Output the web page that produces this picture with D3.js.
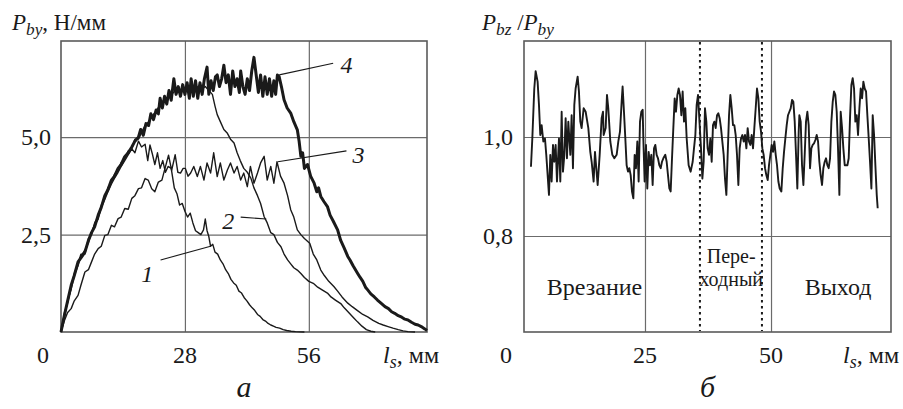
<!DOCTYPE html>
<html>
<head>
<meta charset="utf-8">
<script src="https://cdn.jsdelivr.net/npm/d3@7"></script>
<style>
  html, body { margin: 0; padding: 0; background: #fff; }
  svg { display: block; }
</style>
</head>
<body>
<svg id="chart" width="903" height="409" font-family="'Liberation Serif', 'Times New Roman', 'DejaVu Serif', serif"></svg>
<script>
// two panels: (а) P_by vs l_s for 4 runs, (б) P_bz/P_by ratio vs l_s

// ---- data ----
// panel а: [l_s mm, P_by N/mm]
var curve1 = [[0,0],[0.8,0.4],[1.5,0.8],[2.3,1.1],[3.0,1.45],[3.85,1.7],[4.5,1.95],[5.4,2.1],[6.2,2.3],[6.9,2.55],[7.6,2.75],[8.4,2.9],[9.1,3.2],[9.9,3.4],[10.6,3.6],[11.4,3.8],[12.1,3.95],[12.9,4.1],[13.6,4.25],[14.4,4.4],[15.2,4.55],[16.0,4.7],[16.7,4.6],[17.5,4.9],[18.2,4.75],[19.0,4.82],[19.6,4.4],[20.1,4.8],[20.6,4.59],[21.2,4.3],[21.8,4.6],[22.4,4.2],[23.0,4.4],[23.6,4.1],[24.2,4.25],[24.9,4.2],[25.6,3.7],[26.2,3.55],[26.8,3.26],[27.4,3.3],[28.0,3.1],[28.6,2.95],[29.2,3.05],[29.8,2.8],[30.4,2.6],[31.0,2.55],[31.6,2.5],[32.2,2.62],[32.6,2.9],[33.0,2.6],[33.4,2.45],[33.8,2.2],[34.3,2.25],[34.8,2.05],[35.4,2.0],[36.0,1.85],[36.6,1.75],[37.2,1.6],[37.8,1.5],[38.4,1.35],[39.0,1.26],[39.6,1.2],[40.2,1.05],[40.8,1.0],[41.4,0.88],[42.0,0.8],[42.6,0.7],[43.2,0.62],[43.8,0.55],[44.4,0.45],[45.0,0.4],[45.6,0.32],[46.2,0.28],[46.8,0.22],[47.4,0.18],[48.0,0.15],[48.6,0.12],[49.4,0.1],[50.2,0.06],[51.0,0.04],[52.0,0.02],[53.0,0.01],[55.0,0]];
var curve2 = [[0,0],[0.8,0.5],[1.5,0.75],[2.3,1.15],[3.0,1.5],[3.85,1.75],[4.5,2.0],[5.4,2.0],[6.2,2.4],[6.9,2.5],[7.6,2.8],[8.4,2.95],[9.1,3.25],[9.9,3.45],[10.6,3.7],[11.4,3.85],[12.1,4.05],[12.9,4.15],[13.6,4.35],[14.4,4.45],[15.2,4.65],[16.0,4.7],[16.7,4.95],[17.5,4.95],[18.3,5.15],[19.0,5.3],[19.8,5.4],[20.6,5.55],[21.4,5.65],[22.2,5.8],[23.0,5.9],[23.8,6.0],[24.6,6.05],[25.4,6.15],[26.2,6.2],[27.0,6.2],[27.8,6.25],[28.6,6.2],[29.4,6.3],[30.2,6.25],[31.0,6.3],[31.8,6.25],[32.6,6.3],[33.4,6.2],[34.2,6.1],[34.8,5.8],[35.3,5.58],[36.0,5.4],[36.8,5.2],[37.6,5.1],[38.3,4.95],[39.1,4.85],[39.8,4.6],[40.5,4.4],[41.3,4.2],[42.1,4.1],[42.9,3.95],[43.6,3.7],[44.4,3.5],[45.1,3.3],[45.9,2.96],[46.6,2.8],[47.4,2.55],[48.1,2.5],[48.9,2.3],[49.7,2.19],[50.4,2.0],[51.2,1.85],[51.9,1.75],[52.6,1.65],[53.4,1.59],[54.2,1.5],[55.0,1.4],[56.0,1.3],[57.0,1.25],[58.0,1.15],[59.0,1.08],[60.2,1.0],[61.0,0.9],[62.0,0.82],[63.3,0.72],[64.0,0.62],[65.0,0.5],[66.0,0.38],[67.0,0.26],[68.0,0.15],[69.0,0.06],[70.0,0.02],[71.0,0]];
var curve3 = [[0,0],[0.8,0.3],[1.5,0.5],[2.3,0.6],[3.0,0.8],[3.85,0.94],[4.5,1.2],[5.4,1.54],[6.2,1.6],[6.9,1.8],[7.6,2.0],[8.4,2.14],[9.1,2.2],[9.9,2.48],[10.6,2.5],[11.4,2.74],[12.1,2.7],[12.9,2.91],[13.6,2.95],[14.4,3.17],[15.2,3.15],[16.0,3.43],[16.7,3.5],[17.5,3.68],[18.2,3.7],[19.0,3.94],[19.7,3.9],[20.5,3.68],[21.2,3.6],[22.0,3.85],[22.8,3.9],[23.5,4.2],[24.3,4.54],[25.0,4.15],[25.8,4.55],[26.4,4.1],[27.0,4.08],[27.6,4.2],[28.1,4.2],[28.7,4.0],[29.3,4.08],[30.0,4.25],[30.8,3.99],[31.5,4.25],[32.3,3.9],[33.0,4.34],[33.8,4.08],[34.5,4.6],[35.3,3.99],[36.0,4.34],[36.8,3.9],[37.6,4.16],[38.3,4.34],[39.1,4.08],[39.8,4.25],[40.6,3.9],[41.3,4.08],[42.1,3.73],[42.8,4.25],[43.6,3.82],[44.4,4.08],[45.1,4.34],[45.9,4.51],[46.6,3.9],[47.4,4.25],[48.1,3.82],[48.8,4.37],[49.6,4.0],[50.4,3.82],[51.2,3.5],[51.9,3.14],[52.6,2.95],[53.4,2.62],[54.2,2.5],[55.0,2.4],[56.2,2.28],[57.0,2.0],[57.8,1.85],[58.7,1.59],[59.5,1.45],[60.5,1.3],[61.7,1.16],[62.5,1.05],[63.5,0.9],[64.8,0.74],[65.8,0.65],[67.0,0.55],[68.2,0.45],[69.3,0.39],[70.5,0.3],[71.8,0.22],[72.8,0.18],[73.9,0.14],[75.0,0.1],[76.2,0.06],[77.3,0.03],[78.4,0.01],[80.0,0]];
var curve4 = [[0,0],[0.8,0.45],[1.5,0.8],[2.3,1.2],[3.0,1.45],[3.85,1.8],[4.5,1.9],[5.4,2.05],[6.2,2.35],[6.9,2.55],[7.6,2.7],[8.4,3.0],[9.1,3.2],[9.9,3.5],[10.6,3.65],[11.4,3.9],[12.1,4.0],[12.9,4.2],[13.6,4.3],[14.4,4.5],[15.2,4.6],[16.0,4.75],[16.7,4.9],[17.5,5.0],[18.0,5.2],[18.6,5.05],[19.2,5.35],[19.8,5.3],[20.3,5.6],[20.9,5.45],[21.5,5.7],[22.0,5.6],[22.4,6.0],[22.9,5.75],[23.4,6.05],[23.9,5.85],[24.4,6.2],[24.9,5.95],[25.5,6.5],[26.0,6.1],[26.5,6.3],[27.0,6.05],[27.5,6.35],[28.0,6.1],[28.5,6.4],[29.0,6.0],[29.4,6.5],[29.9,6.05],[30.4,6.45],[30.9,6.0],[31.4,6.4],[31.9,6.1],[32.4,6.5],[33.0,6.8],[33.4,6.1],[33.9,6.45],[34.4,6.2],[34.9,6.55],[35.3,6.6],[35.8,6.3],[36.3,6.5],[36.8,6.85],[37.3,6.4],[37.8,6.6],[38.3,6.1],[38.8,6.7],[39.3,6.3],[39.8,6.5],[40.3,6.15],[40.6,6.7],[41.1,6.3],[41.6,6.1],[42.1,6.5],[42.6,6.2],[43.1,6.7],[43.6,7.05],[44.1,6.6],[44.6,6.15],[45.1,6.6],[45.6,6.05],[46.1,6.55],[46.6,6.1],[47.1,6.5],[47.6,6.05],[48.1,6.45],[48.5,6.1],[48.9,6.6],[49.3,6.55],[49.8,6.3],[50.4,5.96],[51.1,5.75],[51.9,5.62],[52.6,5.4],[53.4,5.19],[53.8,4.9],[54.2,4.51],[54.6,4.6],[55.0,4.2],[55.7,4.3],[56.4,4.0],[57.2,3.82],[57.8,3.6],[58.2,3.7],[58.7,3.48],[59.4,3.35],[60.2,3.22],[60.8,3.0],[61.5,2.85],[62.5,2.62],[63.2,2.35],[64.0,2.15],[64.8,1.94],[65.3,1.85],[66.0,1.7],[67.0,1.51],[67.6,1.4],[68.2,1.3],[68.8,1.15],[69.3,1.08],[70.0,0.98],[70.8,0.9],[71.5,0.82],[72.3,0.74],[73.2,0.65],[74.0,0.6],[74.7,0.52],[75.4,0.48],[76.2,0.42],[77.0,0.38],[77.7,0.33],[78.4,0.31],[79.2,0.25],[80.0,0.2],[80.7,0.18],[81.4,0.14],[82.2,0.08],[82.7,0.04]];

var ticksA_x = [28, 56];
var ticksA_y = [2.5, 5.0];
// label: text, text position [mm, N/mm], leader from [mm, N/mm] to point on curve [mm, N/mm]
var labelsA = [
  { t: "1", at: [19.5, 1.5], from: [22.5, 1.85], to: [33.8, 2.2] },
  { t: "2", at: [37.8, 2.85], from: [40.6, 2.95], to: [46.4, 2.9] },
  { t: "3", at: [67.2, 4.55], from: [64.5, 4.65], to: [49.0, 4.37] },
  { t: "4", at: [64.5, 6.85], from: [61.5, 6.9], to: [49.3, 6.6] }
];

// panel б: [l_s mm, P_bz/P_by]
var ratio = [[2.38,0.940],[2.65,0.997],[3.04,1.098],[3.31,1.133],[3.70,1.112],[3.97,1.065],[4.23,1.004],[4.50,1.024],[4.83,0.991],[5.16,0.997],[5.42,0.964],[5.69,0.923],[5.95,0.883],[6.22,0.964],[6.48,0.910],[6.75,0.984],[7.01,0.950],[7.28,0.984],[7.54,0.910],[7.94,0.997],[8.20,0.910],[8.47,1.051],[8.73,0.930],[9.00,0.964],[9.26,1.038],[9.52,0.957],[9.79,1.031],[10.19,0.964],[10.45,1.044],[10.71,0.937],[10.98,1.065],[11.24,1.098],[11.64,1.122],[11.90,1.092],[12.17,1.031],[12.43,1.018],[12.83,1.058],[13.23,1.051],[13.76,1.018],[14.15,0.970],[14.42,0.950],[14.81,0.910],[15.08,0.970],[15.34,0.937],[15.61,0.903],[16.01,0.964],[16.40,1.038],[16.67,1.051],[16.80,1.004],[17.20,1.018],[17.46,1.085],[17.72,1.058],[18.12,0.991],[18.52,0.964],[18.92,0.957],[19.38,0.964],[19.71,0.991],[20.04,1.011],[20.37,1.071],[20.56,1.102],[20.83,1.051],[21.10,0.997],[21.36,0.943],[21.63,0.930],[21.89,0.937],[22.16,0.923],[22.42,0.890],[22.69,0.876],[22.95,0.964],[23.21,0.937],[23.48,0.991],[23.74,0.910],[24.01,1.031],[24.27,1.051],[24.54,1.055],[24.67,0.997],[24.93,0.910],[25.20,0.984],[25.46,0.896],[25.73,0.970],[25.99,0.943],[26.26,0.964],[26.52,0.903],[26.79,0.977],[27.05,0.984],[27.31,0.964],[27.58,0.957],[27.84,0.943],[28.11,0.937],[28.37,0.950],[28.64,0.957],[29.03,0.964],[29.30,0.950],[29.56,0.923],[29.83,0.896],[30.09,0.890],[30.36,0.957],[30.62,1.018],[30.89,1.078],[31.15,1.051],[31.42,1.085],[31.68,1.098],[31.94,1.085],[32.21,1.044],[32.47,1.092],[32.74,1.031],[33.00,1.058],[33.27,0.997],[33.66,0.943],[34.06,0.930],[34.46,0.950],[34.72,0.977],[34.99,1.004],[35.25,1.065],[35.52,1.085],[35.85,1.024],[36.11,0.977],[36.38,0.916],[36.64,0.950],[36.90,1.058],[37.17,1.031],[37.43,0.977],[37.70,0.964],[37.96,0.997],[38.23,0.950],[38.49,1.024],[38.76,1.031],[39.02,1.018],[39.29,1.044],[39.55,1.048],[39.81,1.038],[40.08,1.018],[40.34,0.991],[40.61,0.964],[40.87,0.916],[41.14,0.883],[41.40,0.964],[41.67,1.044],[41.93,1.085],[42.20,1.058],[42.46,1.024],[42.72,1.024],[42.99,1.004],[43.25,0.964],[43.52,0.903],[43.78,0.977],[44.05,0.997],[44.31,1.004],[44.58,0.991],[44.84,1.004],[45.11,0.977],[45.37,1.018],[45.63,0.991],[45.90,0.984],[46.16,1.004],[46.43,0.977],[46.69,1.018],[46.96,1.058],[47.22,1.098],[47.49,1.078],[47.75,1.031],[48.02,1.011],[48.28,0.977],[48.54,0.964],[48.81,0.937],[49.07,0.923],[49.34,0.913],[49.60,0.943],[49.87,0.964],[50.13,0.984],[50.40,0.970],[50.66,0.991],[50.93,0.964],[51.19,0.943],[51.46,0.910],[51.72,0.896],[52.05,0.890],[52.32,0.937],[52.58,0.970],[52.84,0.997],[53.11,1.024],[53.37,1.044],[53.64,1.051],[53.90,1.058],[54.17,1.075],[54.43,1.071],[54.70,1.031],[54.96,0.964],[55.22,0.896],[55.49,1.011],[55.62,1.044],[55.89,1.031],[56.15,0.943],[56.42,0.903],[56.68,0.964],[56.94,1.031],[57.21,1.051],[57.47,1.024],[57.74,0.937],[58.00,0.977],[58.27,0.984],[58.53,0.987],[58.80,0.994],[59.06,1.004],[59.33,0.991],[59.59,0.950],[59.85,0.923],[60.12,0.903],[60.38,0.937],[60.65,0.950],[60.91,0.957],[61.18,0.943],[61.44,0.937],[61.71,0.957],[61.97,1.031],[62.24,1.071],[62.50,1.092],[62.76,1.085],[63.03,1.051],[63.29,0.977],[63.56,0.883],[63.82,1.051],[64.09,1.018],[64.35,0.977],[64.62,0.943],[64.88,0.943],[65.15,0.943],[65.41,0.957],[65.67,1.038],[65.94,1.105],[66.20,1.119],[66.47,1.098],[66.73,1.031],[67.00,1.044],[67.26,1.004],[67.53,1.058],[67.79,1.098],[68.06,1.078],[68.32,1.112],[68.58,1.098],[68.85,1.092],[69.11,1.044],[69.38,0.997],[69.64,0.950],[69.91,0.896],[70.17,1.044],[70.44,1.004],[70.70,0.943],[70.97,0.883],[71.16,0.856]];

var ticksB_x = [25, 50];
var ticksB_y = [0.8, 1.0];
var zoneBounds = [35.9, 48.2];     // dotted lines
var zoneNames = [
  { lines: ["Врезание"], at: [15, 0.681] },
  { lines: ["Пере-", "ходный"], at: [42.1, 0.746] },
  { lines: ["Выход"], at: [63.3, 0.681] }
];

(function () {
  "use strict";

  var svg = d3.select("#chart");
  var fmt = function (v) { return d3.format(".1f")(v).replace(".", ","); };
  var GRID = "#6b6b6b", FRAME = "#5a5a5a", INK = "#1a1a1a";
  var FS = 24;

  // text with subscripts: parts = [[text, italic, sub]]
  function richText(g, x, y, parts, size) {
    var t = g.append("text").attr("x", x).attr("y", y).attr("font-size", size).attr("fill", INK);
    var down = false;
    parts.forEach(function (p) {
      var s = t.append("tspan").text(p[0]);
      if (p[1]) { s.attr("font-style", "italic"); }
      if (p[2]) { s.attr("font-size", size * 0.75); }
      if (p[2] && !down) { s.attr("dy", 5); down = true; }
      else if (!p[2] && down) { s.attr("dy", -5); down = false; }
    });
    return t;
  }

  function panel(opt) {
    var x = d3.scaleLinear().domain(opt.xd).range([opt.left, opt.right]);
    var y = d3.scaleLinear().domain(opt.yd).range([opt.bottom, opt.top]);
    var g = svg.append("g");

    // grid via axes
    g.append("g").attr("transform", "translate(0," + opt.bottom + ")")
      .call(d3.axisBottom(x).tickValues(opt.tx).tickSize(-(opt.bottom - opt.top)).tickFormat(""))
      .call(function (a) { a.select(".domain").remove(); a.selectAll("line").attr("stroke", GRID).attr("stroke-width", 1.2); });
    g.append("g").attr("transform", "translate(" + opt.left + ",0)")
      .call(d3.axisLeft(y).tickValues(opt.ty).tickSize(-(opt.right - opt.left)).tickFormat(""))
      .call(function (a) { a.select(".domain").remove(); a.selectAll("line").attr("stroke", GRID).attr("stroke-width", 1.2); });

    g.append("rect")
      .attr("x", opt.left).attr("y", opt.top)
      .attr("width", opt.right - opt.left).attr("height", opt.bottom - opt.top)
      .attr("fill", "none").attr("stroke", FRAME).attr("stroke-width", 1.6);

    // tick labels
    g.selectAll(".xl").data(opt.tx).enter().append("text")
      .attr("x", function (d) { return x(d); }).attr("y", 363).attr("fill", INK)
      .attr("text-anchor", "middle").attr("font-size", FS).text(function (d) { return d; });
    g.append("text").attr("x", opt.left - 18).attr("y", 363).attr("fill", INK)
      .attr("text-anchor", "middle").attr("font-size", FS).text("0");
    g.selectAll(".yl").data(opt.ty).enter().append("text")
      .attr("x", opt.ylabX).attr("y", function (d) { return y(d) + 8; }).attr("fill", INK)
      .attr("text-anchor", "end").attr("font-size", FS).text(fmt);

    richText(g, opt.xtitleX, 363, [["l", true, false], ["s", true, true], [", мм", false, false]], FS);
    richText(g, opt.ytitleX, 30, opt.ytitle, 23);
    g.append("text").attr("x", (opt.left + opt.right) / 2).attr("y", 397).attr("fill", INK)
      .attr("text-anchor", "middle").attr("font-size", 30).attr("font-style", "italic").text(opt.tag);

    return { g: g, x: x, y: y };
  }

  // ---- panel а ----
  var A = panel({
    left: 61, right: 427, top: 41, bottom: 332,
    xd: [0, 82.7], yd: [0, 7.47], tx: ticksA_x, ty: ticksA_y,
    ylabX: 51, xtitleX: 383, ytitleX: 12, tag: "а",
    ytitle: [["P", true, false], ["by", true, true], [", Н/мм", false, false]]
  });
  var lineA = d3.line().x(function (d) { return A.x(d[0]); }).y(function (d) { return A.y(d[1]); });
  [curve1, curve2, curve3].forEach(function (c) {
    A.g.append("path").datum(c).attr("d", lineA)
      .attr("fill", "none").attr("stroke", INK).attr("stroke-width", 1.4).attr("stroke-linejoin", "round");
  });
  A.g.append("path").datum(curve4).attr("d", lineA)
    .attr("fill", "none").attr("stroke", INK).attr("stroke-width", 3).attr("stroke-linejoin", "round");

  labelsA.forEach(function (l) {
    A.g.append("line")
      .attr("x1", A.x(l.from[0])).attr("y1", A.y(l.from[1]))
      .attr("x2", A.x(l.to[0])).attr("y2", A.y(l.to[1]))
      .attr("stroke", INK).attr("stroke-width", 1.1);
    A.g.append("text").attr("x", A.x(l.at[0])).attr("y", A.y(l.at[1]) + 8).attr("fill", INK)
      .attr("text-anchor", "middle").attr("font-size", 24).attr("font-style", "italic").text(l.t);
  });

  // ---- panel б ----
  var B = panel({
    left: 524, right: 891, top: 41, bottom: 332,
    xd: [1, 73.8], yd: [0.606, 1.194], tx: ticksB_x, ty: ticksB_y,
    ylabX: 513, xtitleX: 843, ytitleX: 482, tag: "б",
    ytitle: [["P", true, false], ["bz", true, true], [" /", false, false], ["P", true, false], ["by", true, true]]
  });

  zoneBounds.forEach(function (v) {
    B.g.append("line")
      .attr("x1", B.x(v)).attr("x2", B.x(v)).attr("y1", 42).attr("y2", 331)
      .attr("stroke", INK).attr("stroke-width", 2).attr("stroke-dasharray", "2.5,3.5");
  });

  zoneNames.forEach(function (z) {
    var n = z.lines.length;
    z.lines.forEach(function (s, i) {
      B.g.append("text").attr("x", B.x(z.at[0])).attr("y", B.y(z.at[1]) + i * 23).attr("fill", INK)
        .attr("text-anchor", "middle").attr("font-size", n > 1 ? 20 : FS).text(s);
    });
  });

  B.g.append("path").datum(ratio)
    .attr("d", d3.line().x(function (d) { return B.x(d[0]); }).y(function (d) { return B.y(d[1]); }))
    .attr("fill", "none").attr("stroke", INK).attr("stroke-width", 1.9).attr("stroke-linejoin", "round");
})();
</script>
</body>
</html>
